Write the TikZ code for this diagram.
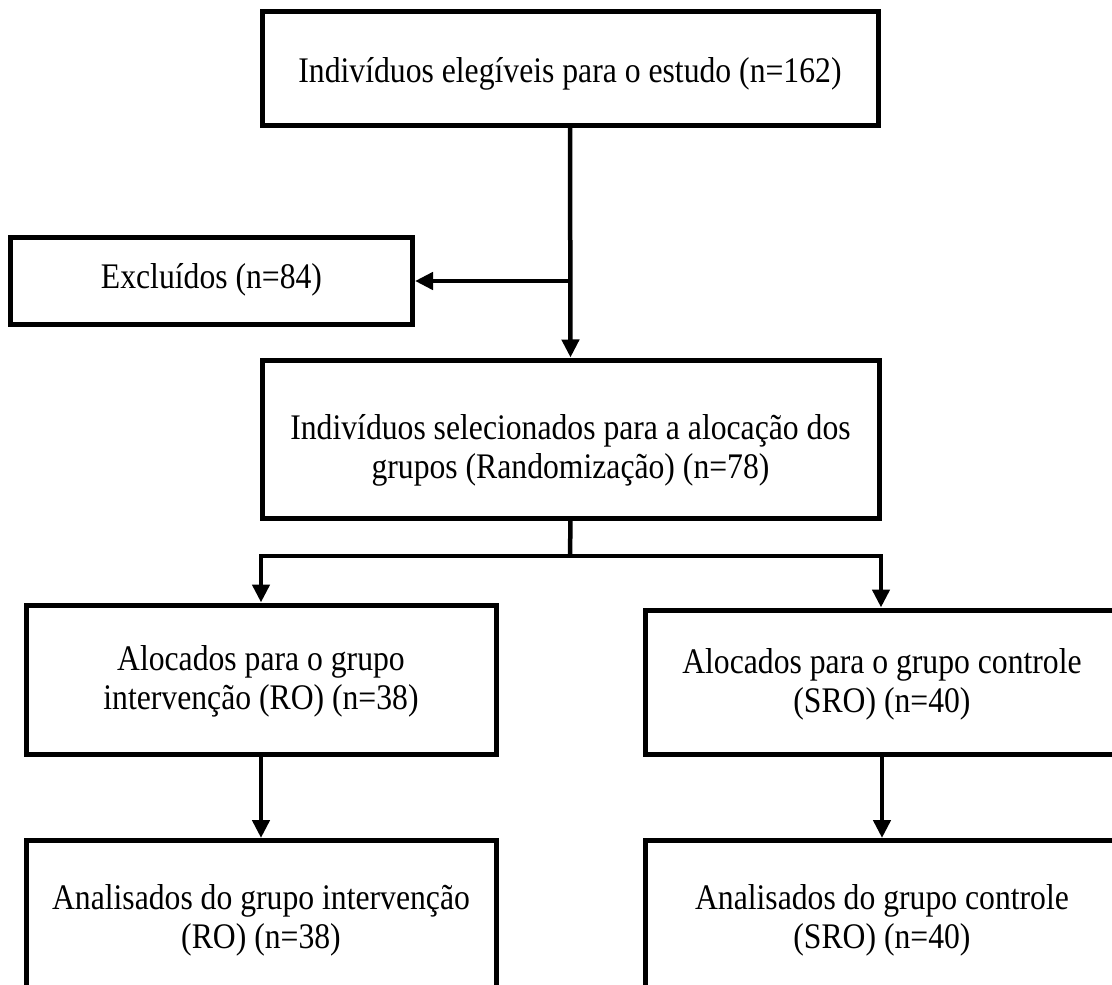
\documentclass[tikz,border=0pt]{standalone}
\usepackage{fontspec}
\setmainfont{Liberation Serif}[FakeStretch=0.88]
\usetikzlibrary{arrows.meta}
\newcommand\shtxt[2]{\raisebox{-#1}[\height][\depth]{\begin{tabular}{@{}c@{}}#2\end{tabular}}}
\tikzset{
  box/.style={draw=black, line width=5pt, rectangle, align=center,
    font=\fontsize{36}{39}\selectfont, inner sep=0pt},
  conn/.style={line width=4.5pt, draw=black},
  arr/.style={conn, -{Triangle[width=17pt,length=18pt]}},
}
\begin{document}
\begin{tikzpicture}[x=1pt,y=-1pt]
\clip (0,0) rectangle (1112,985);
\fill[white] (0,0) rectangle (1112,985);
% boxes
\node[box, minimum width=616pt, minimum height=114pt] (top) at (570,68) {\shtxt{7pt}{Indivíduos elegíveis para o estudo (n=162)}};
\node[box, minimum width=402pt, minimum height=87pt] (excl) at (211.5,281) {\shtxt{0pt}{Excluídos (n=84)}};
\node[box, minimum width=617pt, minimum height=158pt] (rand) at (570.5,439) {\shtxt{12pt}{Indivíduos selecionados para a alocação dos\\grupos (Randomização) (n=78)}};
\node[box, minimum width=470pt, minimum height=149pt] (ml) at (261,679.5) {\shtxt{3pt}{Alocados para o grupo\\intervenção (RO) (n=38)}};
\node[box, minimum width=474pt, minimum height=144pt] (mr) at (882,682) {\shtxt{3pt}{Alocados para o grupo controle\\(SRO) (n=40)}};
\node[box, minimum width=470pt, minimum height=149pt] (bl) at (261,915) {\shtxt{6pt}{Analisados do grupo intervenção\\(RO) (n=38)}};
\node[box, minimum width=474pt, minimum height=149pt] (br) at (882,915) {\shtxt{6pt}{Analisados do grupo controle\\(SRO) (n=40)}};
% connectors
\coordinate (j1) at (570,281);
\coordinate (split) at (570,556);
\coordinate (sl) at (261,556);
\coordinate (sr) at (881,556);
\draw[arr] (top.south) -- (rand.north);
\draw[arr] (j1) -- (excl.east);
\draw[conn] (rand.south) -- (split);
\draw[conn, line cap=rect] (sl) -- (sr);
\draw[arr] (sl) -- (ml.north);
\draw[arr] (sr) -- (sr |- mr.north);
\draw[arr] (ml.south) -- (bl.north);
\draw[arr] (mr.south) -- (br.north);
\end{tikzpicture}
\end{document}
